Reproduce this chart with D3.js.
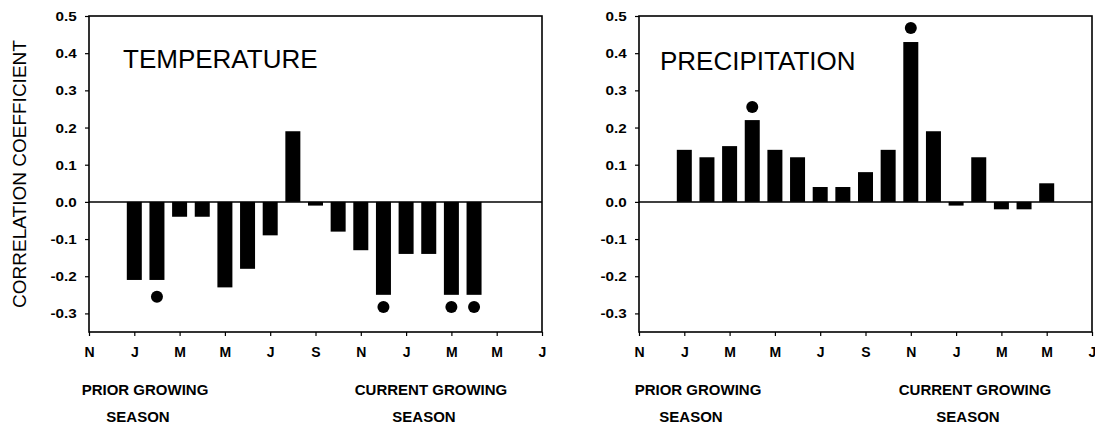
<!DOCTYPE html>
<html>
<head>
<meta charset="utf-8">
<script src="https://cdn.jsdelivr.net/npm/d3@7"></script>
<style>
  body { margin: 0; background: #fff; }
  svg { display: block; font-family: "Liberation Sans", Arial, sans-serif; }
</style>
</head>
<body>
<svg id="chart" width="1095" height="425"></svg>
<script>
// months from prior November (index 0) to current July (index 20); bars start at prior January
var monthTickLabels = ['N', 'J', 'M', 'M', 'J', 'S', 'N', 'J', 'M', 'M', 'J'];
var yTickValues = [-0.3, -0.2, -0.1, 0, 0.1, 0.2, 0.3, 0.4, 0.5];

var tempValues = [-0.21, -0.21, -0.04, -0.04, -0.23, -0.18, -0.09, 0.19,
  -0.01, -0.08, -0.13, -0.25, -0.14, -0.14, -0.25, -0.25];
var tempSignif = [
  { bar: 1, value: -0.255 },
  { bar: 11, value: -0.283 },
  { bar: 14, value: -0.283 },
  { bar: 15, value: -0.283 }
];

var precValues = [0.14, 0.12, 0.15, 0.22, 0.14, 0.12, 0.04, 0.04,
  0.08, 0.14, 0.43, 0.19, -0.01, 0.12, -0.02, -0.02, 0.05];
var precSignif = [
  { bar: 3, value: 0.255 },
  { bar: 10, value: 0.468 }
];

(function () {
  'use strict';

  var FIRST_BAR_MONTH = 2;   // January, counted from November
  var BAR_W = 15;
  var PLOT_W = 453;

  var svg = d3.select('#chart');

  var panels = [
    { title: 'TEMPERATURE', values: tempValues, signif: tempSignif,
      left: 89, titleX: 123, titleY: 68, priorX: 145, currentX: 431 },
    { title: 'PRECIPITATION', values: precValues, signif: precSignif,
      left: 639, titleX: 660, titleY: 70, priorX: 698, currentX: 975 }
  ];

  var y = d3.scaleLinear().domain([-0.35, 0.5]).range([332, 16]);

  function drawPanel(p) {
    var g = svg.append('g');
    var x = d3.scaleLinear().domain([0, 20]).range([p.left, p.left + PLOT_W]);

    // bars
    g.selectAll('rect.bar')
      .data(p.values)
      .enter().append('rect')
      .attr('class', 'bar')
      .attr('x', function (d, i) { return x(i + FIRST_BAR_MONTH) - BAR_W / 2; })
      .attr('y', function (d) { return y(Math.max(d, 0)); })
      .attr('width', BAR_W)
      .attr('height', function (d) { return Math.abs(y(d) - y(0)); })
      .attr('fill', '#000');

    // significance dots
    g.selectAll('circle.sig')
      .data(p.signif)
      .enter().append('circle')
      .attr('class', 'sig')
      .attr('cx', function (d) { return x(d.bar + FIRST_BAR_MONTH); })
      .attr('cy', function (d) { return y(d.value); })
      .attr('r', 6)
      .attr('fill', '#000');

    // zero line
    g.append('line')
      .attr('x1', x(0)).attr('x2', x(20))
      .attr('y1', y(0)).attr('y2', y(0))
      .attr('stroke', '#000').attr('stroke-width', 1.5);

    // frame
    g.append('rect')
      .attr('x', x(0)).attr('y', y(0.5))
      .attr('width', PLOT_W).attr('height', y(-0.35) - y(0.5))
      .attr('fill', 'none').attr('stroke', '#000').attr('stroke-width', 1.6);

    // y axis
    var yAxis = g.append('g')
      .attr('transform', 'translate(' + x(0) + ',0)')
      .call(d3.axisLeft(y).tickValues(yTickValues).tickSize(4)
        .tickFormat(function (d) { return d.toFixed(1); }));
    yAxis.select('.domain').remove();
    yAxis.selectAll('line').attr('stroke-width', 1.2);
    yAxis.selectAll('text')
      .attr('x', -10)
      .attr('dy', '0.36em')
      .attr('transform', 'scale(1.22,1)')
      .style('font-size', '12.5px')
      .style('font-weight', 'bold')
      .style('font-family', '"Liberation Sans", Arial, sans-serif')
      .attr('fill', '#000');

    // x axis
    var xAxis = g.append('g')
      .attr('transform', 'translate(0,' + y(-0.35) + ')')
      .call(d3.axisBottom(x).tickValues(d3.range(0, 21, 2)).tickSize(4)
        .tickFormat(function (d, i) { return monthTickLabels[i]; }));
    xAxis.select('.domain').remove();
    xAxis.selectAll('line').attr('stroke-width', 1.2);
    xAxis.selectAll('text')
      .attr('y', 25)
      .attr('dy', 0)
      .style('font-size', '14px')
      .style('font-weight', 'bold')
      .style('font-family', '"Liberation Sans", Arial, sans-serif')
      .attr('fill', '#000');

    // panel title
    g.append('text')
      .attr('x', p.titleX).attr('y', p.titleY)
      .style('font-size', '26px')
      .text(p.title);

    // season labels
    var seasons = [
      { cx: p.priorX, lines: ['PRIOR GROWING', 'SEASON'] },
      { cx: p.currentX, lines: ['CURRENT GROWING', 'SEASON'] }
    ];
    seasons.forEach(function (s) {
      s.lines.forEach(function (line, k) {
        g.append('text')
          .attr('x', s.cx - (k ? 7 : 0))
          .attr('y', k ? 422 : 395)
          .attr('text-anchor', 'middle')
          .style('font-size', '15px')
          .style('font-weight', 'bold')
          .text(line);
      });
    });
  }

  panels.forEach(drawPanel);

  svg.append('text')
    .attr('transform', 'translate(26,174) rotate(-90)')
    .attr('text-anchor', 'middle')
    .style('font-size', '19px')
    .text('CORRELATION COEFFICIENT');
})();
</script>
</body>
</html>
